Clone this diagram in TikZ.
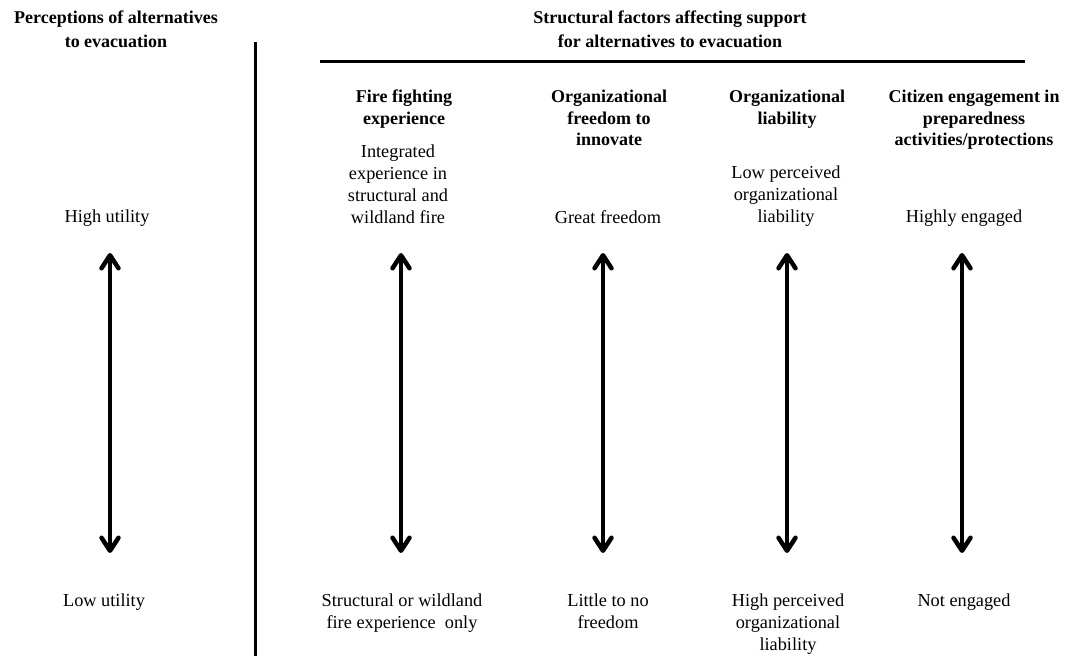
\documentclass[tikz,border=0pt]{standalone}
\usepackage{fontspec}
\setmainfont{Liberation Serif}
\usetikzlibrary{arrows.meta}
\begin{document}
\begin{tikzpicture}[x=1pt,y=-1pt,
  hdr/.style={font=\fontsize{18pt}{21.5pt}\selectfont\bfseries, align=center, inner sep=0pt, anchor=north},
  tophdr/.style={hdr, font=\fontsize{18pt}{24pt}\selectfont\bfseries},
  txt/.style={font=\fontsize{18.3pt}{22pt}\selectfont, align=center, inner sep=0pt, anchor=north},
  rule/.style={line width=3pt},
  barb/.tip={Straight Barb[length=13pt,width=17pt,line cap=round,line join=round]},
  dblarrow/.style={line width=4.5pt, barb-barb}]
\useasboundingbox (0,0) rectangle (1065,656);
% headers
\node[tophdr] (perc) at (116,11) {Perceptions of alternatives\\to evacuation};
\node[tophdr] (struct) at (670,11) {Structural factors affecting support\\for alternatives to evacuation};
\coordinate (divtop) at (255,42);
\coordinate (divbot) at (255,656);
\draw[rule] (divtop) -- (divbot);
\coordinate (rulel) at (320,61);
\coordinate (ruler) at (1025,61);
\draw[rule] (rulel) -- (ruler);
% column headers
\node[hdr] (h1) at (404,90) {Fire fighting\\experience};
\node[hdr] (h2) at (609,90) {Organizational\\freedom to\\innovate};
\node[hdr] (h3) at (787,90) {Organizational\\liability};
\node[hdr] (h4) at (974,90) {Citizen engagement in\\preparedness\\activities/protections};
% top labels
\node[txt] (t0) at (107,210) {High utility};
\node[txt] (t1) at (398,145) {Integrated\\experience in\\structural and\\wildland fire};
\node[txt] (t2) at (608,210) {Great freedom};
\node[txt] (t3) at (786,166) {Low perceived\\organizational\\liability};
\node[txt] (t4) at (964,210) {Highly engaged};
% bottom labels
\node[txt] (b0) at (104,594) {Low utility};
\node[txt] (b1) at (402,594) {Structural or wildland\\fire experience \ only};
\node[txt] (b2) at (608,594) {Little to no\\freedom};
\node[txt] (b3) at (788,594) {High perceived\\organizational\\liability};
\node[txt] (b4) at (964,594) {Not engaged};
% arrows
\foreach \i/\x in {0/110,1/401,2/603,3/787,4/962}{
  \coordinate (u\i) at (\x,253);
  \coordinate (d\i) at (\x,553);
  \draw[dblarrow] (u\i) -- (d\i);
}
\end{tikzpicture}
\end{document}
